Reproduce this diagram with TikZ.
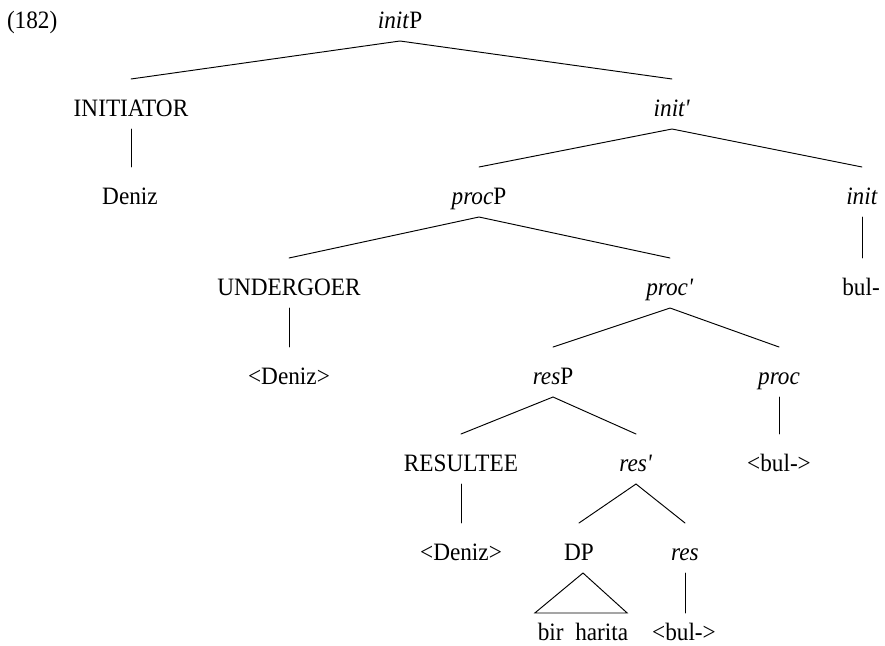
\documentclass[tikz,border=0pt]{standalone}
\usepackage{fontspec}
\setmainfont{Liberation Serif}[FakeStretch=0.93]
\begin{document}
\begin{tikzpicture}[x=1pt,y=-1pt,
  lbl/.style={anchor=base, inner sep=0pt, outer sep=0pt,
    text height=37pt, text depth=13pt,
    font=\fontsize{25}{29}\selectfont},
  leaf/.style={lbl, text height=27pt},
  branch/.style={line width=0.95pt, line cap=round, line join=miter}]
\useasboundingbox (0,0) rectangle (885,645);

% example number
\node[lbl, anchor=base west] (ex) at (7,28) {(182)};

% labels, row by row
\node[lbl] (initP)     at (400,28)  {\textit{init}P};
\node[lbl] (initiator) at (131,116) {INITIATOR};
\node[lbl] (initbar)   at (672,116) {\textit{init\textquotesingle}};
\node[lbl] (deniz1)    at (130,204) {Deniz};
\node[lbl] (procP)     at (479,204) {\textit{proc}P};
\node[lbl] (init)      at (862,204) {\textit{init}};
\node[lbl] (undergoer) at (289,295) {UNDERGOER};
\node[lbl] (procbar)   at (670,295) {\textit{proc\textquotesingle}};
\node[lbl] (bul1)      at (861,295) {bul-};
\node[lbl] (deniz2)    at (289,384) {<Deniz>};
\node[lbl] (resP)      at (553,384) {\textit{res}P};
\node[lbl] (proc)      at (779,384) {\textit{proc}};
\node[lbl] (resultee)  at (461,471) {RESULTEE};
\node[lbl] (resbar)    at (636,471) {\textit{res\textquotesingle}};
\node[lbl] (bul2)      at (779,471) {<bul->};
\node[lbl] (deniz3)    at (461,560) {<Deniz>};
\node[lbl] (DP)        at (579,560) {DP};
\node[lbl] (res)       at (685,560) {\textit{res}};
\node[leaf] (birharita) at (583,640) {bir\ \ harita};
\node[leaf] (bul3)      at (684,640) {<bul->};

% binary branches
\draw[branch] (initiator.north) -- (initP.south) -- (initbar.north);
\draw[branch] (procP.north) -- (initbar.south) -- (init.north);
\draw[branch] (undergoer.north) -- (procP.south) -- (procbar.north);
\draw[branch] (resP.north) -- (procbar.south) -- (proc.north);
\draw[branch] (resultee.north) -- (resP.south) -- (resbar.north);
\draw[branch] (DP.north) -- (resbar.south) -- (res.north);

% unary branches
\draw[branch] (initiator.south) -- (initiator.south |- deniz1.north);
\draw[branch] (init.south) -- (init.south |- bul1.north);
\draw[branch] (undergoer.south) -- (undergoer.south |- deniz2.north);
\draw[branch] (proc.south) -- (proc.south |- bul2.north);
\draw[branch] (resultee.south) -- (resultee.south |- deniz3.north);
\draw[branch] (res.south) -- (res.south |- bul3.north);

% roof over the DP
\draw[branch] ([xshift=4pt]DP.south) -- ([xshift=-3pt]birharita.north west)
  -- ([xshift=-1pt]birharita.north east) -- cycle;
\end{tikzpicture}
\end{document}
